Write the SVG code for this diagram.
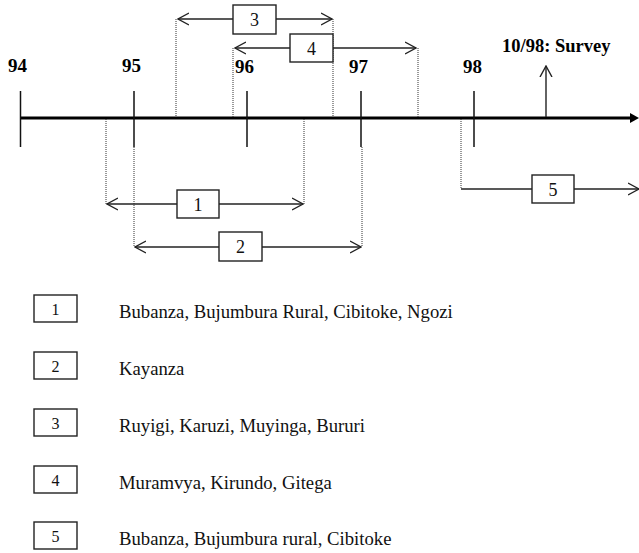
<svg xmlns="http://www.w3.org/2000/svg" width="639" height="553" viewBox="0 0 639 553">
<style>
.bg{fill:#fff}
.axis{stroke:#000;stroke-width:3;fill:none}
.tick{stroke:#111;stroke-width:1.5;fill:none}
.dot{stroke:#333;stroke-width:1;stroke-dasharray:1,1;fill:none}
.conn{stroke:#222;stroke-width:1.4;fill:none}
.box{fill:#fff;stroke:#222;stroke-width:1.4}
.yr{font-family:"Liberation Serif","Times New Roman",serif;font-weight:bold;font-size:19px;fill:#000}
.num{font-family:"Liberation Serif","Times New Roman",serif;font-size:18px;fill:#111;text-anchor:middle}
.lnum{font-family:"Liberation Serif","Times New Roman",serif;font-size:16px;fill:#111;text-anchor:middle}
.leg{font-family:"Liberation Serif","Times New Roman",serif;font-size:18.7px;fill:#111}
</style>
<defs>
<marker id="open" viewBox="0 0 12 14" markerUnits="userSpaceOnUse" markerWidth="12" markerHeight="14" refX="11" refY="7" orient="auto-start-reverse">
<path d="M0,1 L11,7 L0,13" fill="none" stroke="#222" stroke-width="1.4"/>
</marker>
</defs>
<rect class="bg" x="0" y="0" width="639" height="553"/>

<g id="timeline">
<line class="axis" x1="20" y1="118" x2="632" y2="118"/>
<polygon points="630,113 639,118 630,123" fill="#000"/>
<line class="tick" x1="20.5" y1="91" x2="20.5" y2="147"/>
<line class="tick" x1="134" y1="91" x2="134" y2="147"/>
<line class="tick" x1="247" y1="91" x2="247" y2="147"/>
<line class="tick" x1="361" y1="91" x2="361" y2="147"/>
<line class="tick" x1="474" y1="91" x2="474" y2="147"/>
<text class="yr" x="8" y="72">94</text>
<text class="yr" x="122" y="72">95</text>
<text class="yr" x="235" y="73">96</text>
<text class="yr" x="349" y="73">97</text>
<text class="yr" x="463" y="73">98</text>
<text class="yr" x="502" y="52" style="font-size:18.5px">10/98: Survey</text>
</g>

<g id="connectors">
<line class="dot" x1="176" y1="19" x2="176" y2="117"/>
<line class="dot" x1="333" y1="19" x2="333" y2="117"/>
<line class="dot" x1="233" y1="48" x2="233" y2="117"/>
<line class="dot" x1="418" y1="48" x2="418" y2="117"/>
<line class="dot" x1="106" y1="119" x2="106" y2="204"/>
<line class="dot" x1="304" y1="119" x2="304" y2="204"/>
<line class="dot" x1="134" y1="147" x2="134" y2="247"/>
<line class="dot" x1="362" y1="147" x2="362" y2="247"/>
<line class="dot" x1="461" y1="119" x2="461" y2="189"/>
<line class="conn" x1="178" y1="19" x2="332" y2="19" marker-start="url(#open)" marker-end="url(#open)"/>
<line class="conn" x1="235" y1="48" x2="416" y2="48" marker-start="url(#open)" marker-end="url(#open)"/>
<line class="conn" x1="107" y1="204" x2="303" y2="204" marker-start="url(#open)" marker-end="url(#open)"/>
<line class="conn" x1="135" y1="247" x2="361" y2="247" marker-start="url(#open)" marker-end="url(#open)"/>
<polyline class="conn" points="461,189 639,189" marker-end="url(#open)"/>
<line class="conn" x1="546" y1="117" x2="546" y2="66" marker-end="url(#open)"/>
</g>

<g id="node-3"><rect class="box" x="233" y="5" width="43" height="29"/><text class="num" x="254.5" y="26">3</text></g>
<g id="node-4"><rect class="box" x="290" y="34" width="43" height="28"/><text class="num" x="311.5" y="54.5">4</text></g>
<g id="node-1"><rect class="box" x="177" y="190" width="42" height="28"/><text class="num" x="198" y="210.5">1</text></g>
<g id="node-2"><rect class="box" x="219" y="232" width="43" height="29"/><text class="num" x="240.5" y="253">2</text></g>
<g id="node-5"><rect class="box" x="532" y="175" width="42" height="28"/><text class="num" x="553" y="195.5">5</text></g>

<g id="legend-1"><rect class="box" x="34" y="295" width="43" height="27"/><text class="lnum" x="55.5" y="314.5">1</text><text class="leg" x="119" y="318">Bubanza, Bujumbura Rural, Cibitoke, Ngozi</text></g>
<g id="legend-2"><rect class="box" x="34" y="352" width="43" height="27"/><text class="lnum" x="55.5" y="371.5">2</text><text class="leg" x="119" y="375">Kayanza</text></g>
<g id="legend-3"><rect class="box" x="34" y="409" width="43" height="27"/><text class="lnum" x="55.5" y="428.5">3</text><text class="leg" x="119" y="432">Ruyigi, Karuzi, Muyinga, Bururi</text></g>
<g id="legend-4"><rect class="box" x="34" y="466" width="43" height="27"/><text class="lnum" x="55.5" y="485.5">4</text><text class="leg" x="119" y="489">Muramvya, Kirundo, Gitega</text></g>
<g id="legend-5"><rect class="box" x="34" y="522" width="43" height="27"/><text class="lnum" x="55.5" y="541.5">5</text><text class="leg" x="119" y="545">Bubanza, Bujumbura rural, Cibitoke</text></g>
</svg>
